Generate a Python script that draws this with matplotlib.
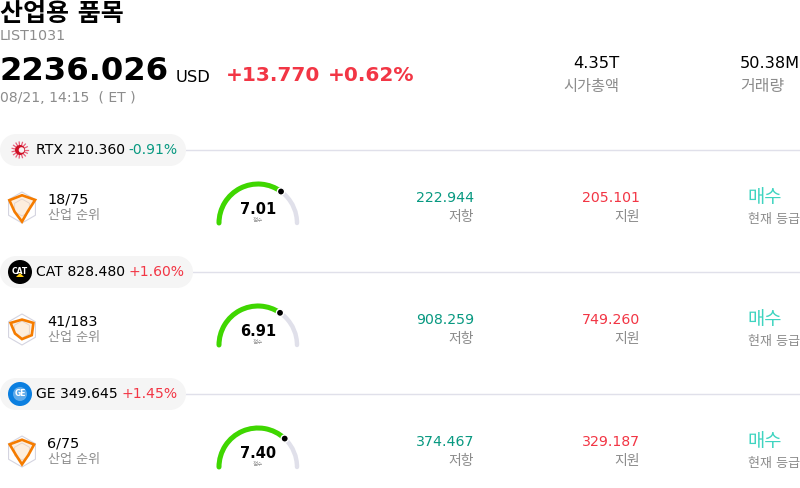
import numpy as np
import matplotlib
matplotlib.use('Agg')
import matplotlib.pyplot as plt
from matplotlib.patches import Circle, FancyBboxPatch, Polygon, Arc

plt.rcParams['font.family'] = ['DejaVu Sans', 'Noto Sans CJK KR']

tickers = ['RTX', 'CAT', 'GE']
prices = ['210.360', '828.480', '349.645']
changes = ['-0.91%', '+1.60%', '+1.45%']
ranks = ['18/75', '41/183', '6/75']
scores = [7.01, 6.91, 7.40]
resistance = ['222.944', '908.259', '374.467']
support = ['205.101', '749.260', '329.187']
# top, upper right, lower right, bottom, lower left, upper left
radar_values = [
    [0.79, 0.98, 0.45, 0.91, 0.55, 0.94],
    [0.64, 0.85, 0.73, 0.62, 0.52, 0.85],
    [0.76, 0.90, 0.47, 0.83, 0.45, 0.92],
]

RED = '#f23645'
GREEN = '#089981'
GREY = '#8c8c8c'
LINE = '#e0e0ea'
PILL = '#f5f5f5'

fig = plt.figure(figsize=(8, 4.88), dpi=100)
ax = fig.add_axes([0, 0, 1, 1])
ax.set_xlim(0, 800)
ax.set_ylim(488, 0)
ax.axis('off')


def txt(x, y, s, size, color='black', ha='left', weight='normal'):
    return ax.text(x, y, s, fontsize=size, color=color, ha=ha, va='center', fontweight=weight, zorder=6)


# header
txt(0, 14, '산업용 품목', 18, weight='bold')
txt(0, 36.5, 'LIST1031', 10.3, GREY)
txt(0, 71.5, '2236.026', 23.2, weight='bold')
txt(176, 77.5, 'USD', 11.7)
txt(226, 75.5, '+13.770', 14.5, RED, weight='bold')
txt(328, 75.5, '+0.62%', 14.5, RED, weight='bold')
txt(0, 98.5, '08/21, 14:15  ( ET )', 10.1, GREY)
txt(620, 63, '4.35T', 11.8, ha='right')
txt(619, 86, '시가총액', 11, GREY, ha='right')
txt(800, 63, '50.38M', 11.6, ha='right')
txt(740, 86, '거래량', 11.5, GREY)

row_tops = [150, 272, 394]
pill_ends = [186, 193, 186]

for i, y0 in enumerate(row_tops):
    ax.plot([pill_ends[i], 800], [y0, y0], color=LINE, lw=1, zorder=1)
    ax.add_patch(FancyBboxPatch((16, y0 - 16), pill_ends[i] - 32, 32,
                                boxstyle='round,pad=0,rounding_size=0',
                                fc=PILL, ec='none', zorder=2))
    ax.add_patch(Circle((16, y0), 16, fc=PILL, ec='none', zorder=2))
    ax.add_patch(Circle((pill_ends[i] - 16, y0), 16, fc=PILL, ec='none', zorder=2))

    # logos
    if tickers[i] == 'RTX':
        for a in np.arange(0, 360, 24):
            r = np.radians(a)
            ax.plot([20 + 4 * np.cos(r), 20 + 8 * np.cos(r)],
                    [y0 + 4 * np.sin(r), y0 + 8 * np.sin(r)],
                    color='#e8607a', lw=0.9, zorder=3)
        ax.add_patch(Circle((20, y0), 5, fc='#ce1126', ec='none', zorder=4))
        ax.add_patch(Circle((21.5, y0), 2.8, fc=PILL, ec='none', zorder=5))
    elif tickers[i] == 'CAT':
        ax.add_patch(Circle((20, y0), 12, fc='black', ec='none', zorder=3))
        txt(20, y0 - 1, 'CAT', 5.5, 'white', ha='center', weight='bold')
        ax.add_patch(Polygon([(16, y0 + 5), (24, y0 + 5), (20, y0 + 1)], fc='#ffcd11', ec='none', zorder=7))
    else:
        ax.add_patch(Circle((20, y0), 12, fc='#0b7fe0', ec='none', zorder=3))
        ax.add_patch(Circle((20, y0), 7, fc='white', alpha=0.35, ec='none', zorder=4))
        txt(20, y0, 'GE', 5.5, 'white', ha='center', weight='bold')

    t = txt(36, y0 + 0.5, f'{tickers[i]} {prices[i]}', 10.1)
    fig.canvas.draw()
    bb = t.get_window_extent()
    txt(bb.x1 + 3.5, y0 + 0.5, changes[i], 10.1, RED if changes[i].startswith('+') else GREEN)

    # radar icon
    cx, cy, R = 22, y0 + 57.5, 15.5
    ang = np.radians(90 - np.arange(6) * 60)
    ax.add_patch(Polygon(np.c_[cx + R * np.cos(ang), cy - R * np.sin(ang)], fc='none', ec='#d4d4e0', lw=0.8))
    ax.add_patch(Polygon(np.c_[cx + R * .55 * np.cos(ang), cy - R * .55 * np.sin(ang)],
                         fc='none', ec='#e0e0ea', lw=0.6))
    v = np.array(radar_values[i])
    pts = np.c_[cx + R * v * np.cos(ang), cy - R * v * np.sin(ang)]
    ax.add_patch(Polygon(pts, fc='#f57c00', alpha=0.13, ec='none'))
    ax.add_patch(Polygon(pts, fc='none', ec='#f57c00', lw=1.9, joinstyle='miter'))

    txt(47.5, y0 + 49.5, ranks[i], 10.4)
    txt(48, y0 + 65, '산업 순위', 9.4, GREY)

    # gauge, 0-10 across the half circle
    gx, gy, gr = 258, y0 + 73, 39
    score_ang = 180 * (1 - scores[i] / 10)
    ax.add_patch(Arc((gx, gy), 2 * gr, 2 * gr, theta1=180, theta2=360, color='#e0e0ea', lw=3.2, capstyle='round'))
    ax.add_patch(Arc((gx, gy), 2 * gr, 2 * gr, theta1=180, theta2=360 - score_ang, color='#3fd700', lw=3.6,
                     capstyle='round'))
    ax.add_patch(Circle((gx + gr * np.cos(np.radians(score_ang)), gy - gr * np.sin(np.radians(score_ang))),
                        3.6, fc='black', ec='white', lw=1, zorder=5))
    txt(gx, y0 + 59, f'{scores[i]:.2f}', 10.5, ha='center', weight='bold')
    txt(gx, y0 + 70, '점수', 4, GREY, ha='center')

    txt(474, y0 + 47.5, resistance[i], 10.2, GREEN, ha='right')
    txt(474, y0 + 66.5, '저항', 10, GREY, ha='right')
    txt(640, y0 + 47.5, support[i], 10.2, RED, ha='right')
    txt(640, y0 + 66.5, '지원', 10, GREY, ha='right')
    txt(747, y0 + 48, '매수', 13.5, '#3fd4c0')
    txt(748, y0 + 69, '현재 등급', 9.4, GREY)

fig.savefig('out.png', dpi=100)
